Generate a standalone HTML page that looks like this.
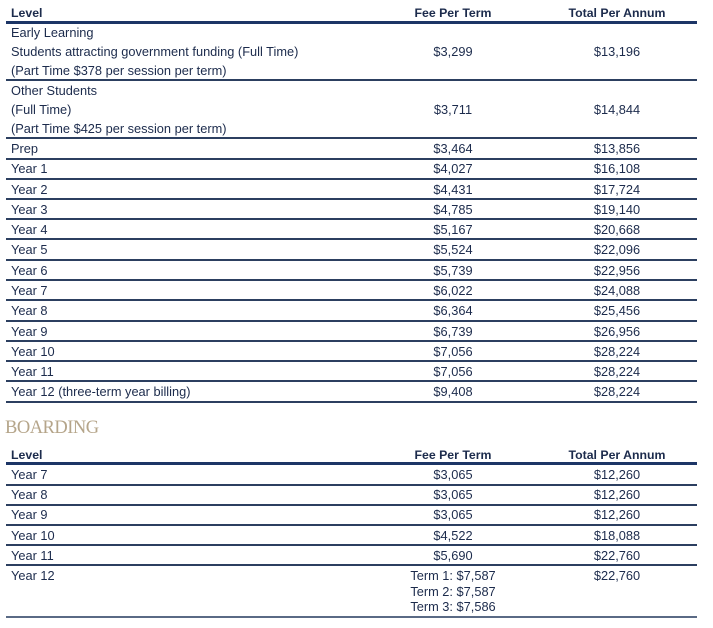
<!DOCTYPE html>
<html><head><meta charset="utf-8"><style>
body{margin:0;width:713px;height:628px;background:#fff;position:relative;overflow:hidden;font-family:"Liberation Sans",sans-serif;font-size:12.8px;color:#1c2b4c}
.t{position:absolute;line-height:14px;white-space:nowrap;margin-top:1px}
.c1{left:11px}.c2{left:373px;width:160px;text-align:center}.c3{left:537px;width:160px;text-align:center}
.b{font-weight:bold;font-size:12.3px}
.l{position:absolute;left:6px;width:691px;height:2px;background:#2c3f60}
.h{height:3px;background:#1c3566}
</style></head><body>
<div class="t c1 b" style="top:5px">Level</div><div class="t c2 b" style="top:5px">Fee Per Term</div><div class="t c3 b" style="top:5px">Total Per Annum</div>
<div class="l h" style="top:21px"></div>
<div class="t c1" style="top:25px">Early Learning</div>
<div class="t c1" style="top:44px">Students attracting government funding (Full Time)</div><div class="t c2" style="top:44px">$3,299</div><div class="t c3" style="top:44px">$13,196</div>
<div class="t c1" style="top:63px">(Part Time $378 per session per term)</div>
<div class="l" style="top:79px"></div>
<div class="t c1" style="top:83px">Other Students</div>
<div class="t c1" style="top:102px">(Full Time)</div><div class="t c2" style="top:102px">$3,711</div><div class="t c3" style="top:102px">$14,844</div>
<div class="t c1" style="top:121px">(Part Time $425 per session per term)</div>
<div class="l" style="top:137px"></div>
<div class="t c1" style="top:141px">Prep</div><div class="t c2" style="top:141px">$3,464</div><div class="t c3" style="top:141px">$13,856</div>
<div class="l" style="top:158px"></div>
<div class="t c1" style="top:161px">Year 1</div><div class="t c2" style="top:161px">$4,027</div><div class="t c3" style="top:161px">$16,108</div>
<div class="l" style="top:178px"></div>
<div class="t c1" style="top:182px">Year 2</div><div class="t c2" style="top:182px">$4,431</div><div class="t c3" style="top:182px">$17,724</div>
<div class="l" style="top:198px"></div>
<div class="t c1" style="top:202px">Year 3</div><div class="t c2" style="top:202px">$4,785</div><div class="t c3" style="top:202px">$19,140</div>
<div class="l" style="top:218px"></div>
<div class="t c1" style="top:222px">Year 4</div><div class="t c2" style="top:222px">$5,167</div><div class="t c3" style="top:222px">$20,668</div>
<div class="l" style="top:238px"></div>
<div class="t c1" style="top:242px">Year 5</div><div class="t c2" style="top:242px">$5,524</div><div class="t c3" style="top:242px">$22,096</div>
<div class="l" style="top:259px"></div>
<div class="t c1" style="top:263px">Year 6</div><div class="t c2" style="top:263px">$5,739</div><div class="t c3" style="top:263px">$22,956</div>
<div class="l" style="top:279px"></div>
<div class="t c1" style="top:283px">Year 7</div><div class="t c2" style="top:283px">$6,022</div><div class="t c3" style="top:283px">$24,088</div>
<div class="l" style="top:299px"></div>
<div class="t c1" style="top:303px">Year 8</div><div class="t c2" style="top:303px">$6,364</div><div class="t c3" style="top:303px">$25,456</div>
<div class="l" style="top:320px"></div>
<div class="t c1" style="top:324px">Year 9</div><div class="t c2" style="top:324px">$6,739</div><div class="t c3" style="top:324px">$26,956</div>
<div class="l" style="top:340px"></div>
<div class="t c1" style="top:344px">Year 10</div><div class="t c2" style="top:344px">$7,056</div><div class="t c3" style="top:344px">$28,224</div>
<div class="l" style="top:360px"></div>
<div class="t c1" style="top:364px">Year 11</div><div class="t c2" style="top:364px">$7,056</div><div class="t c3" style="top:364px">$28,224</div>
<div class="l" style="top:380px"></div>
<div class="t c1" style="top:384px">Year 12 (three-term year billing)</div><div class="t c2" style="top:384px">$9,408</div><div class="t c3" style="top:384px">$28,224</div>
<div class="l" style="top:401px"></div>
<div class="t" style="left:5px;top:417px;font-family:'Liberation Serif',serif;font-size:18.5px;line-height:20px;color:#b5a58a;letter-spacing:-0.5px">BOARDING</div>
<div class="t c1 b" style="top:447px">Level</div><div class="t c2 b" style="top:447px">Fee Per Term</div><div class="t c3 b" style="top:447px">Total Per Annum</div>
<div class="l h" style="top:462px"></div>
<div class="t c1" style="top:467px">Year 7</div><div class="t c2" style="top:467px">$3,065</div><div class="t c3" style="top:467px">$12,260</div>
<div class="l" style="top:484px"></div>
<div class="t c1" style="top:487px">Year 8</div><div class="t c2" style="top:487px">$3,065</div><div class="t c3" style="top:487px">$12,260</div>
<div class="l" style="top:504px"></div>
<div class="t c1" style="top:507px">Year 9</div><div class="t c2" style="top:507px">$3,065</div><div class="t c3" style="top:507px">$12,260</div>
<div class="l" style="top:524px"></div>
<div class="t c1" style="top:528px">Year 10</div><div class="t c2" style="top:528px">$4,522</div><div class="t c3" style="top:528px">$18,088</div>
<div class="l" style="top:544px"></div>
<div class="t c1" style="top:548px">Year 11</div><div class="t c2" style="top:548px">$5,690</div><div class="t c3" style="top:548px">$22,760</div>
<div class="l" style="top:564px"></div>
<div class="t c1" style="top:568px">Year 12</div><div class="t c2" style="top:568px">Term 1: $7,587</div><div class="t c3" style="top:568px">$22,760</div>
<div class="t c2" style="top:584px">Term 2: $7,587</div>
<div class="t c2" style="top:599px">Term 3: $7,586</div>
<div class="l" style="top:616px;background:#5a6a85"></div>
</body></html>
